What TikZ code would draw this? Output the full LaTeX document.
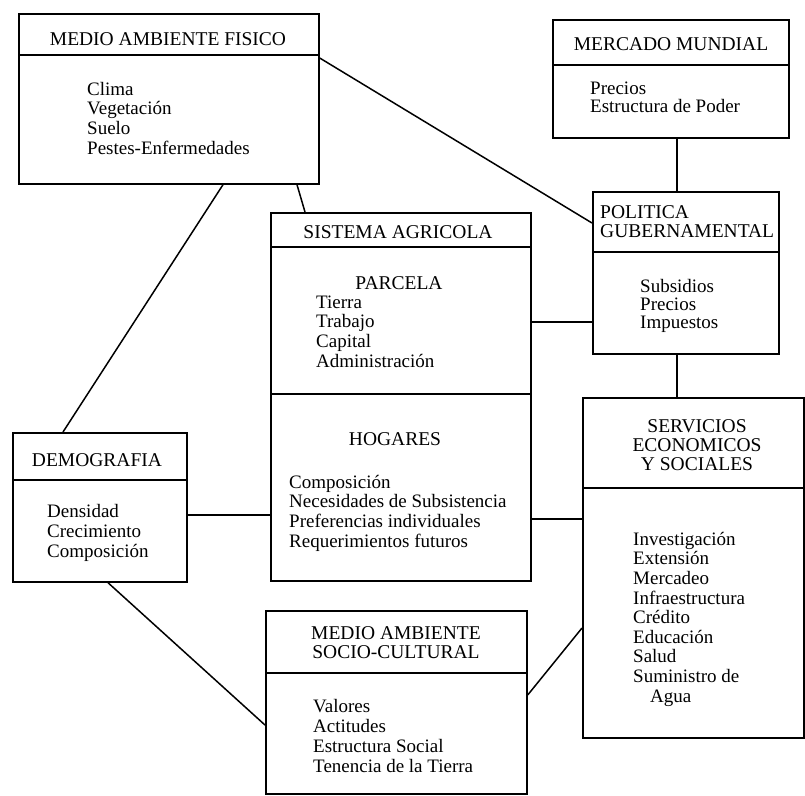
\documentclass[tikz,border=0pt]{standalone}
\usepackage{fontspec}
\setmainfont{Liberation Serif}
\begin{document}
\begin{tikzpicture}[x=1pt,y=-1pt,
  box/.style={draw, line width=1.7pt, inner sep=0pt, anchor=north west},
  rule/.style={line width=1.5pt},
  link/.style={line width=1.5pt},
  txt/.style={inner sep=0pt, anchor=base west, align=left, font=\fontsize{19}{19.6}\selectfont},
  ttl/.style={inner sep=0pt, anchor=base, align=center, font=\fontsize{19.5}{19.6}\selectfont},
]
\useasboundingbox (0,0) rectangle (805,795);

% boxes
\node[box, minimum width=300pt, minimum height=170pt] (maf) at (18,13) {};
\node[box, minimum width=236pt, minimum height=118pt] (mer) at (552,19) {};
\node[box, minimum width=186pt, minimum height=162pt] (pol) at (592,191) {};
\node[box, minimum width=260pt, minimum height=368pt] (sis) at (270,212) {};
\node[box, minimum width=174pt, minimum height=149pt] (dem) at (12,432) {};
\node[box, minimum width=221pt, minimum height=340pt] (ser) at (582,397) {};
\node[box, minimum width=261pt, minimum height=183pt] (soc) at (265,610) {};

% header rules
\draw[rule] (maf.west |- 0,55) -- (maf.east |- 0,55);
\draw[rule] (mer.west |- 0,65) -- (mer.east |- 0,65);
\draw[rule] (pol.west |- 0,252) -- (pol.east |- 0,252);
\draw[rule] (sis.west |- 0,247) -- (sis.east |- 0,247);
\draw[rule] (sis.west |- 0,394) -- (sis.east |- 0,394);
\draw[rule] (dem.west |- 0,480) -- (dem.east |- 0,480);
\draw[rule] (ser.west |- 0,488) -- (ser.east |- 0,488);
\draw[rule] (soc.west |- 0,673) -- (soc.east |- 0,673);

% texts (multi-line nodes sit on the baseline of their last line)
\node[ttl] (maf-t) at (168,45) {MEDIO AMBIENTE FISICO};
\node[txt] (maf-b) at (87,154) {Clima\\Vegetación\\Suelo\\Pestes-Enfermedades};

\node[ttl] (mer-t) at (671,50) {MERCADO MUNDIAL};
\node[txt, font=\fontsize{19}{17.5}\selectfont] (mer-b) at (590,112) {Precios\\Estructura de Poder};

\node[txt, font=\fontsize{19.5}{19}\selectfont] (pol-t) at (600,237) {POLITICA\\GUBERNAMENTAL};
\node[txt, font=\fontsize{19}{18}\selectfont] (pol-b) at (640,328) {Subsidios\\Precios\\Impuestos};

\node[ttl] (sis-t) at (398,238) {SISTEMA AGRICOLA};
\node[ttl] (par-t) at (399,289) {PARCELA};
\node[txt] (par-b) at (316,367) {Tierra\\Trabajo\\Capital\\Administración};
\node[ttl] (hog-t) at (395,445) {HOGARES};
\node[txt] (hog-b) at (289,547) {Composición\\Necesidades de Subsistencia\\Preferencias individuales\\Requerimientos futuros};

\node[ttl] (dem-t) at (97,466) {DEMOGRAFIA};
\node[txt] (dem-b) at (47,557) {Densidad\\Crecimiento\\Composición};

\node[ttl, font=\fontsize{19.5}{19}\selectfont] (ser-t) at (697,470) {SERVICIOS\\ECONOMICOS\\Y SOCIALES};
\node[txt] (ser-b) at (633,702) {Investigación\\Extensión\\Mercadeo\\Infraestructura\\Crédito\\Educación\\Salud\\Suministro de\\\hspace*{17pt}Agua};

\node[ttl, font=\fontsize{19.5}{19}\selectfont] (soc-t) at (396,658) {MEDIO AMBIENTE\\SOCIO-CULTURAL};
\node[txt, font=\fontsize{19}{20}\selectfont] (soc-b) at (313,772) {Valores\\Actitudes\\Estructura Social\\Tenencia de la Tierra};

% connectors
\draw[link] (maf.east |- 0,58) -- (pol.west |- 0,223);
\draw[link] (mer.south -| 677,0) -- (pol.north -| 677,0);
\draw[link] (pol.south -| 677,0) -- (ser.north -| 677,0);
\draw[link] (maf.south -| 297,0) -- (sis.north -| 305,0);
\draw[link] (maf.south -| 223,0) -- (dem.north -| 63,0);
\draw[link] (dem.east |- 0,515) -- (sis.west |- 0,515);
\draw[link] (sis.east |- 0,322) -- (pol.west |- 0,322);
\draw[link] (sis.east |- 0,519) -- (ser.west |- 0,519);
\draw[link] (ser.west |- 0,628) -- (soc.east |- 0,695);
\draw[link] (dem.south -| 108,0) -- (soc.west |- 0,725);
\end{tikzpicture}
\end{document}
